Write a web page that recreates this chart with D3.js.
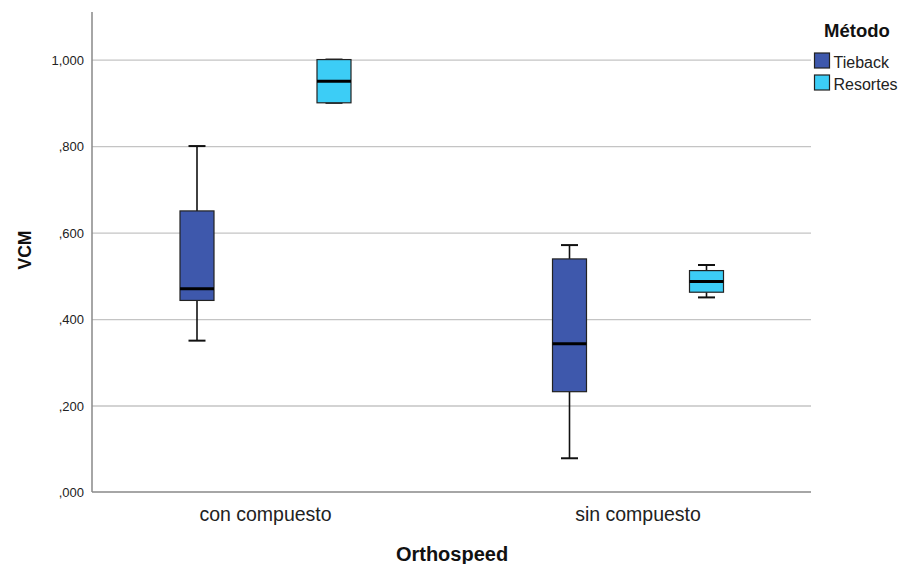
<!DOCTYPE html>
<html>
<head>
<meta charset="utf-8">
<script src="https://cdn.jsdelivr.net/npm/d3@7"></script>
<style>
  html, body { margin: 0; padding: 0; background: #fff; }
  svg { display: block; font-family: "Liberation Sans", Arial, sans-serif; }
</style>
</head>
<body>
<svg id="chart" width="904" height="564"></svg>
<script>
// ---- data ----
const categories = ["con compuesto", "sin compuesto"];
const methods = ["Tieback", "Resortes"];
const colors = ["#3e58ac", "#3ccdf6"];

const tiebackMin    = [0.350, 0.078];
const tiebackQ1     = [0.443, 0.232];
const tiebackMedian = [0.470, 0.343];
const tiebackQ3     = [0.650, 0.539];
const tiebackMax    = [0.800, 0.571];

const resortesMin    = [0.900, 0.450];
const resortesQ1     = [0.900, 0.462];
const resortesMedian = [0.950, 0.487];
const resortesQ3     = [1.000, 0.512];
const resortesMax    = [1.000, 0.525];

const yTicks = [0, 0.2, 0.4, 0.6, 0.8, 1.0];
const xTitle = "Orthospeed";
const yTitle = "VCM";
const legendTitle = "Método";

const series = [
  { name: methods[0], color: colors[0], min: tiebackMin, q1: tiebackQ1, med: tiebackMedian, q3: tiebackQ3, max: tiebackMax },
  { name: methods[1], color: colors[1], min: resortesMin, q1: resortesQ1, med: resortesMedian, q3: resortesQ3, max: resortesMax }
];

// ---- layout ----
const plotL = 92, plotR = 811, plotT = 12, plotB = 492;
const svg = d3.select("#chart");

const y = d3.scaleLinear().domain([0, 1.11]).range([plotB, plotT]);
const x = d3.scalePoint().domain(categories).range([265.5, 638]);
const xOff = d3.scalePoint().domain(methods).range([-68.5, 68.5]);
const boxW = 34, capW = 17;

const fmt = d => {
  let s = d.toFixed(3).replace(".", ",");
  if (s.startsWith("0,")) s = s.slice(1);
  return s;
};

// gridlines
const grid = svg.append("g").attr("transform", `translate(${plotL},0)`)
  .call(d3.axisLeft(y).tickValues(yTicks.filter(t => t > 0)).tickSize(-(plotR - plotL)).tickFormat(""));
grid.select(".domain").remove();
grid.selectAll(".tick line").attr("stroke", "#c4c4c4").attr("stroke-width", 1.3);

// y axis labels
const yAxis = svg.append("g").attr("transform", `translate(${plotL},0)`)
  .call(d3.axisLeft(y).tickValues(yTicks).tickSize(0).tickPadding(8).tickFormat(fmt));
yAxis.select(".domain").remove();
yAxis.selectAll(".tick text")
  .attr("dy", "0.36em")
  .attr("font-size", 13).attr("fill", "#222")
  .attr("font-family", "'Liberation Sans', Arial, sans-serif");

// axis lines
svg.append("line").attr("x1", plotL).attr("x2", plotL).attr("y1", plotT).attr("y2", plotB)
  .attr("stroke", "#888").attr("stroke-width", 1.5);
svg.append("line").attr("x1", plotL).attr("x2", plotR).attr("y1", plotB).attr("y2", plotB)
  .attr("stroke", "#888").attr("stroke-width", 1.5);

// category labels
categories.forEach(c => {
  svg.append("text")
    .attr("x", x(c)).attr("y", 521)
    .attr("text-anchor", "middle").attr("font-size", 19.5).attr("fill", "#222")
    .text(c);
});

// axis titles
svg.append("text")
  .attr("x", 452).attr("y", 561)
  .attr("text-anchor", "middle").attr("font-size", 20).attr("font-weight", "bold").attr("fill", "#111")
  .text(xTitle);
svg.append("text")
  .attr("transform", "translate(31,250) rotate(-90)")
  .attr("text-anchor", "middle").attr("font-size", 17.5).attr("font-weight", "bold").attr("fill", "#111")
  .text(yTitle);

// boxes
series.forEach(s => {
  const g = svg.append("g");
  categories.forEach((c, i) => {
    const cx = x(c) + xOff(s.name);
    g.append("line").attr("x1", cx).attr("x2", cx).attr("y1", y(s.max[i])).attr("y2", y(s.q3[i]))
      .attr("stroke", "#111").attr("stroke-width", 1.6);
    g.append("line").attr("x1", cx).attr("x2", cx).attr("y1", y(s.q1[i])).attr("y2", y(s.min[i]))
      .attr("stroke", "#111").attr("stroke-width", 1.6);
    g.append("line").attr("x1", cx - capW / 2).attr("x2", cx + capW / 2).attr("y1", y(s.max[i])).attr("y2", y(s.max[i]))
      .attr("stroke", "#111").attr("stroke-width", 2);
    g.append("line").attr("x1", cx - capW / 2).attr("x2", cx + capW / 2).attr("y1", y(s.min[i])).attr("y2", y(s.min[i]))
      .attr("stroke", "#111").attr("stroke-width", 2);
    g.append("rect").attr("x", cx - boxW / 2).attr("width", boxW)
      .attr("y", y(s.q3[i])).attr("height", y(s.q1[i]) - y(s.q3[i]))
      .attr("fill", s.color).attr("stroke", "#222").attr("stroke-width", 1.2);
    g.append("line").attr("x1", cx - boxW / 2).attr("x2", cx + boxW / 2).attr("y1", y(s.med[i])).attr("y2", y(s.med[i]))
      .attr("stroke", "#000").attr("stroke-width", 3);
  });
});

// legend
svg.append("text")
  .attr("x", 857).attr("y", 37)
  .attr("text-anchor", "middle").attr("font-size", 18.5).attr("font-weight", "bold").attr("fill", "#111")
  .text(legendTitle);
series.forEach((s, i) => {
  const ly = 53 + i * 22;
  svg.append("rect").attr("x", 814.5).attr("y", ly).attr("width", 15).attr("height", 15)
    .attr("fill", s.color).attr("stroke", "#222").attr("stroke-width", 1.2);
  svg.append("text")
    .attr("x", 833.5).attr("y", ly + 15)
    .attr("font-size", 16).attr("fill", "#222")
    .text(s.name);
});
</script>
</body>
</html>
